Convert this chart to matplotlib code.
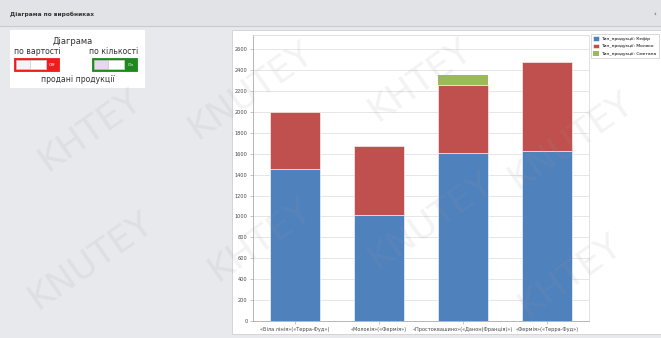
import matplotlib
matplotlib.use("Agg")
import matplotlib.pyplot as plt
from matplotlib.patches import Rectangle

categories = ["«Біла лінія»(«Терра-Фуд»)", "«Молокія»(«Фермія»)",
              "«Простоквашино»(«Данон(Франція)»)", "«Фермія»(«Терра-Фуд»)"]
series_names = ["Тип_продукції: Кефір", "Тип_продукції: Молоко", "Тип_продукції: Сметана"]
kefir = [1450, 1010, 1605, 1625]
moloko = [550, 665, 655, 855]
smetana = [0, 0, 95, 0]
yticks = list(range(0, 2601, 200))
colors = ["#4f81bd", "#c0504d", "#9bbb59"]

W, H = 661, 338
fig = plt.figure(figsize=(W / 100, H / 100), dpi=100)
fig.patch.set_facecolor("#e8e9ed")
plt.rcParams['font.family'] = ['DejaVu Sans']

# background layer
bg = fig.add_axes([0, 0, 1, 1], zorder=0)
bg.set_xlim(0, W); bg.set_ylim(H, 0); bg.axis("off")
bg.add_patch(Rectangle((0, 0), W, 26, color="#e2e3e7"))
bg.plot([0, W], [26, 26], color="#c9cbd0", lw=0.8)
bg.text(10, 14, "Діаграма по виробниках", fontsize=4.2, fontweight="bold", va="center", color="#333333")
bg.text(653, 14, "‹", fontsize=5, va="center", color="#555555")
# chart panel
bg.add_patch(Rectangle((232, 30), W - 232, 304, facecolor="white", edgecolor="#d0d0d0", lw=0.6))
# control panel
bg.add_patch(Rectangle((10, 30), 135, 58, facecolor="white", edgecolor="none"))
bg.text(73, 41, "Діаграма", fontsize=6, ha="center", va="center", color="#333333")
bg.text(37, 51, "по вартості", fontsize=5.6, ha="center", va="center", color="#333333")
bg.text(114, 51, "по кількості", fontsize=5.6, ha="center", va="center", color="#333333")
bg.text(78, 80, "продані продукції", fontsize=5.6, ha="center", va="center", color="#333333")
# red switch
bg.add_patch(Rectangle((14, 58), 45, 13, facecolor="#ee1c1c", edgecolor="#ee1c1c", lw=0.6))
bg.add_patch(Rectangle((16, 60), 30, 9, facecolor="#f4f4f4", edgecolor="#cccccc", lw=0.4))
bg.add_patch(Rectangle((30, 60), 16, 9, facecolor="#ffffff", edgecolor="#bbbbbb", lw=0.4))
bg.text(52.5, 64.5, "Off", fontsize=3.2, ha="center", va="center", color="white")
# green switch
bg.add_patch(Rectangle((92, 58), 45, 13, facecolor="#1e8a1e", edgecolor="#1e8a1e", lw=0.6))
bg.add_patch(Rectangle((94, 60), 30, 9, facecolor="#e6d9ef", edgecolor="#cccccc", lw=0.4))
bg.add_patch(Rectangle((108, 60), 16, 9, facecolor="#ffffff", edgecolor="#bbbbbb", lw=0.4))
bg.text(130.5, 64.5, "On", fontsize=3.2, ha="center", va="center", color="white")

# chart
ax = fig.add_axes([253 / W, 1 - 321 / H, (589 - 253) / W, (321 - 35) / H], zorder=1)
x = list(range(len(categories)))
bottom2 = [a + b for a, b in zip(kefir, moloko)]
ax.bar(x, kefir, width=0.6, color=colors[0], edgecolor="white", linewidth=0.4, label=series_names[0], zorder=2)
ax.bar(x, moloko, width=0.6, bottom=kefir, color=colors[1], edgecolor="white", linewidth=0.4, label=series_names[1], zorder=2)
ax.bar(x, smetana, width=0.6, bottom=bottom2, color=colors[2], edgecolor="white", linewidth=0.0, label=series_names[2], zorder=2)
ax.set_xlim(-0.5, 3.5)
ax.set_ylim(0, 2735)
ax.set_yticks(yticks)
ax.set_yticklabels([str(v) for v in yticks], fontsize=3.6, color="#444444")
ax.set_xticks(x)
ax.set_xticklabels(categories, fontsize=3.6, color="#444444")
ax.tick_params(axis="both", length=2, width=0.4, color="#999999", pad=2)
ax.grid(axis="y", color="#dcdcdc", lw=0.5, zorder=0)
for s in ax.spines.values():
    s.set_color("#d5d5d5"); s.set_linewidth(0.5)
ax.spines["left"].set_color("#999999")
ax.spines["bottom"].set_color("#999999")

leg = fig.legend(loc="upper left", bbox_to_anchor=(591 / W, 1 - 34 / H), fontsize=3.2,
                 frameon=True, fancybox=False, edgecolor="#bbbbbb", handlelength=1.3,
                 handleheight=1.2, borderpad=0.5, labelspacing=0.6, handletextpad=0.5,
                 borderaxespad=0)
leg.get_frame().set_linewidth(0.5)

# watermark (kept within the picture)
wm = fig.add_axes([0, 0, 1, 1], zorder=5)
wm.set_xlim(0, W); wm.set_ylim(H, 0); wm.axis("off")
marks = [(90, 130, "KHTEY"), (250, 90, "KNUTEY"), (420, 80, "KHTEY"), (570, 140, "KNUTEY"),
         (90, 260, "KNUTEY"), (260, 240, "KHTEY"), (430, 220, "KNUTEY"), (570, 275, "KHTEY")]
for xx, yy, word in marks:
    wm.text(xx, yy, word, fontsize=26, rotation=35,
            color="#9a9a9a", alpha=0.12, ha="center", va="center")

fig.savefig("out.png", dpi=100, facecolor=fig.get_facecolor())
